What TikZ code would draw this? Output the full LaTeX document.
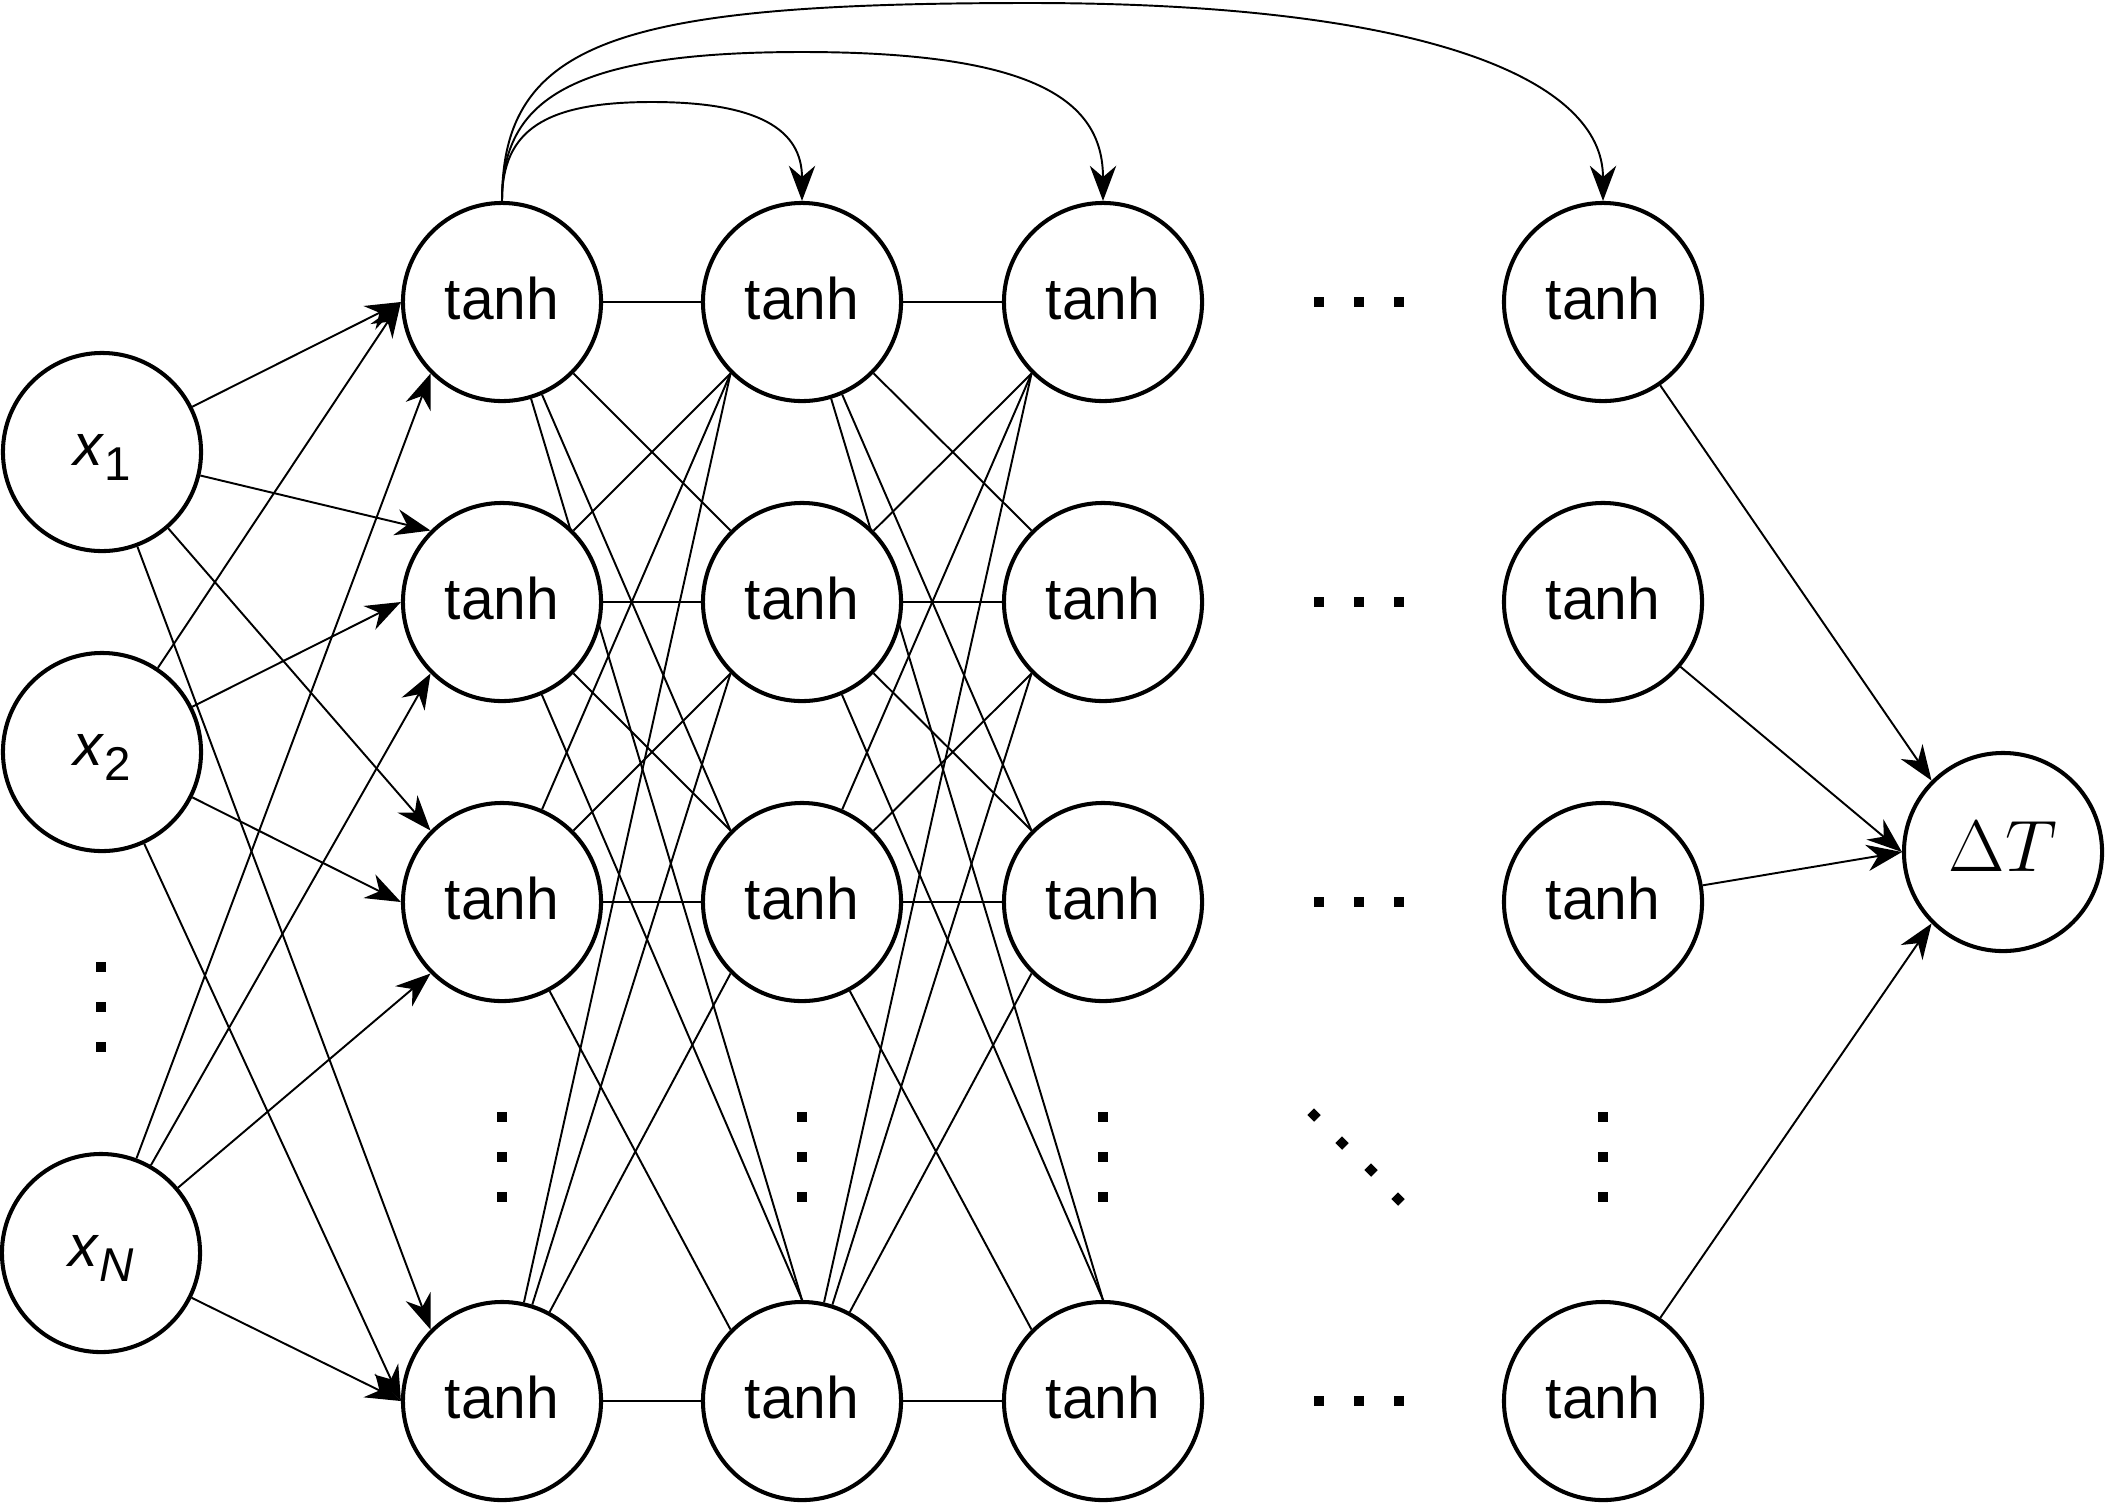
\documentclass[tikz,border=0pt]{standalone}
\usepackage[no-math]{fontspec}
\setmainfont{Liberation Sans}
\usetikzlibrary{arrows.meta}
\pgfdeclarelayer{edges}
\pgfsetlayers{edges,main}
\newcommand\dotsqr[2]{\fill (#1-4.75,#2-4.75) rectangle (#1+4.75,#2+4.75);}
\newcommand\dotdia[2]{\fill[rotate around={45:(#1,#2)}] (#1-4.75,#2-4.75) rectangle (#1+4.75,#2+4.75);}
\begin{document}
\begin{tikzpicture}[x=0.01cm,y=-0.01cm,
  neuron/.style={circle,draw,line width=1.15pt,fill=white,minimum size=1.98cm,inner sep=0pt,font=\fontsize{16.7}{20}\selectfont},
  hid/.style={neuron,text height=12pt,text depth=2.2pt},
  innode/.style={neuron,text height=8pt,text depth=0.6pt},
  conn/.style={line width=0.55pt},
  arr/.style={line width=0.55pt,-{Stealth[length=10pt,width=7.5pt,inset=3.2pt]}}
]
\useasboundingbox (0,0) rectangle (2110,1505);

% input nodes
\node[innode] (x1) at (102,452) {\textit{x}\raisebox{-4.5pt}{\fontsize{13.5}{16}\selectfont 1}};
\node[innode] (x2) at (102,752) {\textit{x}\raisebox{-4.5pt}{\fontsize{13.5}{16}\selectfont 2}};
\node[innode] (xN) at (101,1253) {\textit{x}\raisebox{-4.5pt}{\fontsize{13.5}{16}\selectfont\itshape N}};

% hidden nodes
\foreach \c/\cx in {1/502,2/802,3/1103,4/1603}{
  \foreach \r/\ry in {1/302,2/602,3/902,5/1401}{
    \node[hid] (h\c\r) at (\cx,\ry) {tanh};
  }
}

% output node
\node[neuron,font=\fontsize{21}{24}\selectfont,text height=14.3pt,text depth=3.4pt] (dT) at (2003,852) {$\Delta T$};

% curve mid points
\coordinate (ca) at (652,102);
\coordinate (cb) at (802,52);
\coordinate (cc) at (1030,3);

\begin{pgfonlayer}{edges}
% input -> first hidden layer
\draw[arr] (x1) -- (h11.west);
\draw[arr] (x2) -- (h11.west);
\draw[arr] (xN) -- (h11.south west);
\draw[arr] (x1) -- (h12.north west);
\draw[arr] (x2) -- (h12.west);
\draw[arr] (xN) -- (h12.south west);
\draw[arr] (x1) -- (h13.north west);
\draw[arr] (x2) -- (h13.west);
\draw[arr] (xN) -- (h13.south west);
\draw[arr] (x1) -- (h15.north west);
\draw[arr] (x2) -- (h15.west);
\draw[arr] (xN) -- (h15.west);

% hidden -> hidden
\foreach \a/\b in {1/2,2/3}{
  \draw[conn] (h\a1) -- (h\b1.west);
  \draw[conn] (h\a2) -- (h\b1.south west);
  \draw[conn] (h\a3) -- (h\b1.south west);
  \draw[conn] (h\a5) -- (h\b1.south west);
  \draw[conn] (h\a1) -- (h\b2.north west);
  \draw[conn] (h\a2) -- (h\b2.west);
  \draw[conn] (h\a3) -- (h\b2.south west);
  \draw[conn] (h\a5) -- (h\b2.south west);
  \draw[conn] (h\a1) -- (h\b3.north west);
  \draw[conn] (h\a2) -- (h\b3.north west);
  \draw[conn] (h\a3) -- (h\b3.west);
  \draw[conn] (h\a5) -- (h\b3.south west);
  \draw[conn] (h\a1) -- (h\b5.north);
  \draw[conn] (h\a2) -- (h\b5.north);
  \draw[conn] (h\a3) -- (h\b5.north west);
  \draw[conn] (h\a5) -- (h\b5.west);
}

% last hidden -> output
\draw[arr] (h41) -- (dT.north west);
\draw[arr] (h42) -- (dT.west);
\draw[arr] (h43) -- (dT.west);
\draw[arr] (h45) -- (dT.south west);

% skip curves
\draw[arr] (h11.north) .. controls +(0,-71) and +(-107,0) .. (ca) .. controls +(107,0) and +(0,-71) .. (h21.north);
\draw[arr] (h11.north) .. controls +(0,-101) and +(-232,0) .. (cb) .. controls +(232,0) and +(0,-101) .. (h31.north);
\draw[arr] (h11.north) .. controls +(0,-161) and +(-410,0) .. (cc) .. controls +(400,0) and +(0,-120) .. (h41.north);
\end{pgfonlayer}

% dots
\foreach \yy in {967,1007,1047}{\dotsqr{101}{\yy}}
\foreach \xx in {502,802,1103,1603}{
  \foreach \yy in {1117,1157,1197}{\dotsqr{\xx}{\yy}}
}
\foreach \yy in {302,602,902,1401}{
  \foreach \xx in {1319,1359,1399}{\dotsqr{\xx}{\yy}}
}
\dotdia{1314}{1115}
\dotdia{1342}{1143}
\dotdia{1371}{1170}
\dotdia{1398}{1199}
\end{tikzpicture}
\end{document}
